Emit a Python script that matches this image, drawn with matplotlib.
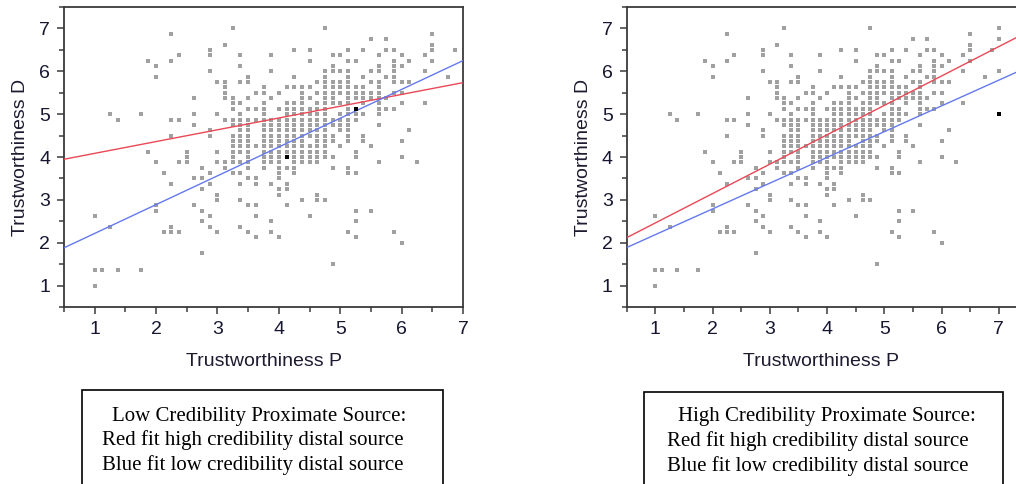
import numpy as np
import matplotlib
matplotlib.use("Agg")
import matplotlib.pyplot as plt
from matplotlib.ticker import MultipleLocator
from matplotlib.patches import Rectangle

# ---------------- data ----------------
# scatter: Trustworthiness D level -> Trustworthiness P values present
rows = [
    (7.0,   [3.25, 4.75, 7.0]),
    (6.875, [2.25, 6.5]),
    (6.75,  [5.5, 5.75, 7.0]),
    (6.625, [3.125, 6.5]),
    (6.5,   [2.875, 4.25, 4.5, 5.125, 5.375, 5.75, 5.875, 6.5, 6.875]),
    (6.375, [2.375, 2.875, 3.375, 3.875, 4.875, 5.0, 5.625, 6.0, 6.375]),
    (6.25,  [1.875, 2.25, 4.5, 5.125, 5.25, 5.875, 6.125, 6.5]),
    (6.125, [2.0, 3.375, 4.875, 5.625, 5.875, 6.0]),
    (6.0,   [2.875, 3.875, 4.75, 4.875, 5.0, 5.125, 5.5, 5.625, 5.875, 6.375, 7.0]),
    (5.875, [2.0, 3.5, 4.25, 4.75, 5.125, 5.375, 5.75, 5.875, 6.75]),
    (5.75,  [3.0, 3.125, 3.375, 3.5, 4.625, 4.75, 4.875, 5.0, 5.125, 5.5, 5.625,
             5.875, 6.0, 6.125]),
    (5.625, [3.125, 3.75, 4.125, 4.25, 4.375, 4.5, 4.75, 4.875, 5.0, 5.125, 5.25,
             5.375, 5.625]),
    (5.5,   [3.125, 3.625, 3.75, 4.0, 4.375, 4.625, 4.75, 4.875, 5.0, 5.125, 5.25,
             5.375, 5.5, 5.625, 5.875, 6.0]),
    (5.375, [2.625, 3.125, 3.25, 3.5, 3.875, 4.375, 4.5, 4.75, 4.875, 5.125, 5.25,
             5.375, 5.5, 5.625, 5.75]),
    (5.25,  [3.25, 3.375, 3.75, 4.125, 4.25, 4.375, 4.625, 4.75, 4.875, 5.0, 5.125,
             5.375, 5.625, 6.0, 6.375]),
    (5.125, [3.25, 3.5, 3.625, 3.75, 4.0, 4.125, 4.25, 4.375, 4.5, 4.625, 4.75,
             5.125, 5.25, 5.625, 5.75, 5.875]),
    (5.0,   [1.25, 1.75, 2.625, 3.0, 3.375, 3.75, 4.125, 4.25, 4.375, 4.5, 4.625,
             4.75, 5.0, 5.125, 5.25, 5.375, 5.625]),
    (4.875, [1.375, 2.25, 2.375, 3.125, 3.25, 3.375, 3.5, 3.625, 3.75, 3.875, 4.0,
             4.125, 4.25, 4.375, 4.5, 4.625, 4.75, 4.875, 5.0, 5.125, 5.25]),
    (4.75,  [2.625, 3.25, 3.375, 3.5, 3.75, 3.875, 4.0, 4.125, 4.25, 4.375, 4.5,
             4.625, 4.75, 4.875, 5.0, 5.125, 5.625]),
    (4.625, [2.875, 3.375, 3.5, 3.75, 3.875, 4.0, 4.125, 4.25, 4.375, 4.5, 4.625,
             4.75, 5.0, 5.125, 6.125]),
    (4.5,   [2.25, 2.875, 3.25, 3.375, 3.5, 3.75, 3.875, 4.0, 4.125, 4.25, 4.375,
             4.5, 4.625, 4.75, 4.875, 5.125, 5.375]),
    (4.375, [3.25, 3.375, 3.5, 3.75, 3.875, 4.0, 4.125, 4.25, 4.375, 4.625, 4.75,
             4.875, 5.125, 5.375, 6.0]),
    (4.25,  [3.25, 3.375, 3.5, 3.625, 3.75, 3.875, 4.0, 4.125, 4.25, 4.375, 4.5,
             4.625, 4.75, 5.0, 5.5]),
    (4.125, [1.875, 2.5, 3.0, 3.25, 3.375, 3.5, 3.75, 3.875, 4.0, 4.125, 4.25,
             4.375, 4.5, 4.625, 4.75, 5.25]),
    (4.0,   [2.5, 3.25, 3.5, 3.75, 3.875, 4.0, 4.125, 4.25, 4.375, 4.5, 4.625,
             4.75, 4.875, 5.25, 6.0]),
    (3.875, [2.0, 2.375, 2.5, 3.0, 3.125, 3.25, 3.375, 3.5, 3.75, 3.875, 4.0,
             4.25, 4.375, 4.5, 4.625, 5.625, 6.25]),
    (3.75,  [2.75, 3.125, 3.5, 3.75, 4.0, 4.125, 4.25, 4.875, 5.125]),
    (3.625, [2.125, 2.875, 3.25, 3.375, 4.0, 4.25, 5.125, 5.25]),
    (3.5,   [2.625, 2.75, 3.5, 3.625, 4.0]),
    (3.375, [2.25, 2.875, 3.375, 3.625, 3.875, 4.125]),
    (3.25,  [2.75, 4.0, 4.125]),
    (3.125, [3.0, 4.0, 4.625]),
    (3.0,   [3.0, 3.375, 4.375, 4.625, 4.75]),
    (2.875, [2.0, 2.625, 3.5, 3.625, 4.125]),
    (2.75,  [2.0, 2.75, 5.25, 5.5]),
    (2.625, [1.0, 2.875, 3.625, 4.5]),
    (2.5,   [2.75, 3.875, 5.25]),
    (2.375, [1.25, 2.25, 2.875, 3.375]),
    (2.25,  [2.125, 2.25, 2.375, 3.0, 3.5, 3.875, 5.125, 5.875]),
    (2.125, [3.625, 4.0, 5.25]),
    (2.0,   [6.0]),
    (1.75,  [2.75]),
    (1.5,   [4.875]),
    (1.375, [1.0, 1.125, 1.375, 1.75]),
    (1.0,   [1.0]),
]

# highlighted (black) points in each panel
left_marked_x = [4.125, 5.25]
left_marked_y = [4.0, 5.125]
right_marked_x = [7.0]
right_marked_y = [5.0]

# fitted lines: (intercept, slope)
left_red_fit = (3.81, 0.275)
left_blue_fit = (1.545, 0.672)
right_red_fit = (1.775, 0.686)
right_blue_fit = (1.587, 0.601)

x_label = "Trustworthiness P"
y_label = "Trustworthiness D"
ticks = [1, 2, 3, 4, 5, 6, 7]
left_box_lines = ["Low Credibility Proximate Source:",
                  "Red fit high credibility distal source",
                  "Blue fit low credibility distal source"]
right_box_lines = ["High Credibility Proximate Source:",
                   "Red fit high credibility distal source",
                   "Blue fit low credibility distal source"]

# ---------------- build ----------------
pts_x = np.array([x for y, xs in rows for x in xs])
pts_y = np.array([y for y, xs in rows for x in xs])

W, H = 1016, 484
fig = plt.figure(figsize=(W / 100, H / 100), dpi=100)
fig.patch.set_facecolor("white")

SANS = ["Liberation Sans", "DejaVu Sans"]
SERIF = ["Liberation Serif", "DejaVu Serif"]
RED = "#ea4855"
BLUE = "#6479f0"
GREY = "#a0a0a0"
SPINE = "#3a3a3a"


def fx(px):
    return px / W


def fy(py):
    return 1 - py / H


def make_axes(rect, xlim, fits, mx, my):
    ax = fig.add_axes(rect)
    ax.set_xlim(*xlim)
    ax.set_ylim(0.5, 7.5)
    shown = pts_x < xlim[1]          # points on the right border are not drawn
    ax.scatter(pts_x[shown], pts_y[shown], marker="s", s=6, c=GREY,
               linewidths=0, zorder=2)
    ax.scatter(mx, my, marker="s", s=6, c="black", linewidths=0, zorder=4)
    xx = np.array([0.0, 8.0])
    for (b0, b1), col in zip(fits, [RED, BLUE]):
        ax.plot(xx, b0 + b1 * xx, color=col, lw=1.0, zorder=3)
    ax.set_xticks(ticks)
    ax.set_yticks(ticks)
    ax.xaxis.set_minor_locator(MultipleLocator(0.5))
    ax.yaxis.set_minor_locator(MultipleLocator(0.5))
    ax.tick_params(which="major", direction="out", length=5, width=1.1,
                   color=SPINE, labelsize=14, labelcolor="#161630", pad=5)
    ax.tick_params(which="minor", direction="out", length=3.5, width=1.1,
                   color=SPINE)
    for lab in ax.get_xticklabels() + ax.get_yticklabels():
        lab.set_family(SANS)
    for sp in ax.spines.values():
        sp.set_color(SPINE)
        sp.set_linewidth(1.3)
    ax.set_xlabel(x_label, fontsize=14, family=SANS, color="#1e1a30", labelpad=7)
    ax.set_ylabel(y_label, fontsize=14, family=SANS, color="#1e1a30", labelpad=7)
    return ax


ax1 = make_axes([fx(64), fy(307), fx(463) - fx(64), fy(7) - fy(307)], (0.5, 7.0),
                [left_red_fit, left_blue_fit], left_marked_x, left_marked_y)
ax2 = make_axes([fx(626.7), fy(307), fx(1027.5) - fx(626.7), fy(7) - fy(307)], (0.5, 7.5),
                [right_red_fit, right_blue_fit], right_marked_x, right_marked_y)
ax2.xaxis.set_label_coords((821 - 626.7) / (1027.5 - 626.7), -0.155)
ax1.xaxis.set_label_coords(0.5, -0.155)

# text boxes (cut off at the bottom of the figure)
for (x0, x1, top) in [(81.7, 442.7, 390), (644, 1003, 392)]:
    fig.patches.append(Rectangle((fx(x0), fy(520)), fx(x1) - fx(x0), fy(top) - fy(520),
                                 transform=fig.transFigure, fill=False,
                                 edgecolor="black", linewidth=1.2))

for lines, starts, dy in [(left_box_lines, [111.7, 101.7, 101.7], 0),
                          (right_box_lines, [677.7, 666.8, 666.8], 1)]:
    for txt, x0, base in zip(lines, starts, [420.5, 445, 470]):
        fig.text(fx(x0), fy(base + dy), txt, ha="left", va="baseline",
                 fontsize=15, family=SERIF, color="black")

fig.savefig("out.png", dpi=100)
